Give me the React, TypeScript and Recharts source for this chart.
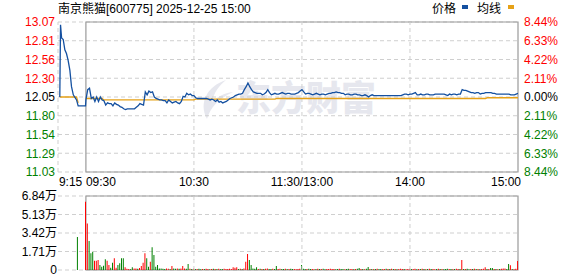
import React from "react";
import {
  ComposedChart,
  Line,
  Bar,
  Cell,
  XAxis,
  YAxis,
  CartesianGrid,
  ReferenceLine,
  ReferenceArea,
} from "recharts";

// ---------- data ----------
const title = "南京熊猫[600775] 2025-12-25 15:00";
const legendNames = ["价格", "均线"];
const watermark = "东方财富";
const prevClose = 12.05;

const priceTicks = [11.033, 11.2873, 11.5415, 11.7958, 12.05, 12.3043, 12.5585, 12.8128, 13.067];
const priceTickLabels = ["11.03", "11.29", "11.54", "11.80", "12.05", "12.30", "12.56", "12.81", "13.07"];
const pctTickLabels = ["8.44%", "6.33%", "4.22%", "2.11%", "0.00%", "2.11%", "4.22%", "6.33%", "8.44%"];

const timeTicks = [-15, 0, 60, 120, 180, 240];
const timeLabels = ["9:15", "09:30", "10:30", "11:30/13:00", "14:00", "15:00"];
const gridMinutes = [60, 120, 180];

const volTicks = [0, 17100, 34200, 51300, 68400];
const volTickLabels = ["0", "1.71万", "3.42万", "5.13万", "6.84万"];

// pre-market (call auction) points, minutes relative to 09:30
const preMinutes = [-14.5, -14.1, -13.5, -12.6, -11.7, -10.8, -9.9, -8.9, -8.0, -7.0, -5.2, -4.3, -0.2];
const prePrice = [12.05, 13.03, 12.85, 12.83, 12.69, 12.64, 12.55, 12.41, 12.19, 12.08, 12.01, 11.93, 11.93];
const preAvg = [12.05, 12.05, 12.05, 12.05, 12.05, 12.05, 12.05, 12.05, 12.05, 12.05, 12.05, 11.97, null];

// continuous session, one value per minute (0 = 09:30 ... 120 = 11:30/13:00 ... 240 = 15:00)
const mainPrice = [
  12.01, 12.15, 12.17, 12.03, 12.05, 11.99, 12.05, 11.99, 12.05, 12.01,
  12.0, 11.94, 11.97, 11.96, 11.96, 11.93, 11.97, 11.95, 11.94, 11.92,
  11.91, 11.89, 11.88, 11.89, 11.89, 11.89, 11.89, 11.89, 11.91, 11.93,
  11.96, 11.95, 11.94, 12.12, 12.08, 12.13, 12.11, 12.12, 12.05, 12.03,
  12.02, 12.01, 12.01, 12.0, 12.0, 11.97, 12.01, 11.99, 11.97, 11.98,
  11.99, 11.97, 11.96, 11.99, 12.06, 12.05, 12.1, 12.08, 12.09, 12.07,
  12.07, 12.04, 12.03, 12.03, 12.03, 12.03, 12.03, 12.03, 12.02, 12.01,
  12.02, 12.01, 11.99, 12.01, 11.98, 11.99, 11.97, 11.98, 11.99, 12.01,
  12.03, 12.04, 12.05, 12.07, 12.08, 12.09, 12.09, 12.1, 12.15, 12.19,
  12.24, 12.19, 12.15, 12.12, 12.11, 12.1, 12.1, 12.1, 12.08, 12.09,
  12.11, 12.15, 12.11, 12.08, 12.09, 12.1, 12.09, 12.09, 12.1, 12.11,
  12.1, 12.09, 12.1, 12.1, 12.09, 12.09, 12.09, 12.1, 12.11, 12.13,
  12.15, 12.12, 12.09, 12.1, 12.1, 12.09, 12.08, 12.09, 12.1, 12.09,
  12.08, 12.09, 12.09, 12.08, 12.09, 12.1, 12.1, 12.11, 12.11, 12.12,
  12.11, 12.11, 12.1, 12.1, 12.08, 12.09, 12.09, 12.08, 12.08, 12.09,
  12.09, 12.08, 12.08, 12.07, 12.07, 12.08, 12.07, 12.05, 12.07, 12.08,
  12.07, 12.07, 12.07, 12.07, 12.07, 12.07, 12.07, 12.07, 12.07, 12.07,
  12.07, 12.07, 12.07, 12.07, 12.07, 12.07, 12.08, 12.09, 12.09, 12.08,
  12.09, 12.09, 12.1, 12.11, 12.08, 12.08, 12.09, 12.08, 12.08, 12.09,
  12.09, 12.08, 12.08, 12.08, 12.09, 12.09, 12.09, 12.09, 12.09, 12.09,
  12.08, 12.07, 12.09, 12.08, 12.09, 12.09, 12.08, 12.09, 12.09, 12.15,
  12.14, 12.14, 12.13, 12.12, 12.11, 12.11, 12.1, 12.11, 12.11, 12.09,
  12.1, 12.1, 12.11, 12.11, 12.11, 12.11, 12.1, 12.1, 12.09, 12.09,
  12.09, 12.09, 12.09, 12.09, 12.09, 12.09, 12.08, 12.08, 12.08, 12.09,
  12.1,
];

// average price line, read as flat stretches: [first minute, last minute, value]
const avgSegments: [number, number, number][] = [
  [0, 9, 12.03],
  [10, 60, 12.01],
  [61, 105, 12.02],
  [106, 222, 12.03],
  [223, 240, 12.04],
];

const preVolMinutes = [-4.5];
const preVolume = [30500];
const preVolDir = ["g"];

const mainVolume = [
  63000, 43000, 26800, 15400, 16900, 8600, 8600, 9200, 4600, 3000,
  4000, 9900, 8600, 4600, 2000, 6800, 10800, 2000, 4600, 6200,
  10800, 10800, 2500, 1200, 1000, 800, 2500, 1500, 1500, 1200,
  1800, 3700, 6700, 15400, 10800, 3000, 7700, 21000, 13900, 3000,
  4600, 1500, 1500, 1200, 1000, 1500, 1200, 1000, 3700, 1500,
  1200, 1500, 1200, 1500, 3700, 1500, 1200, 5500, 1200, 1000,
  1200, 900, 1000, 1200, 800, 1000, 900, 1200, 1000, 800,
  1000, 1200, 900, 1000, 1200, 800, 1000, 1200, 900, 1000,
  1200, 1000, 2500, 2000, 2500, 1000, 1200, 900, 1500, 7700,
  14800, 9200, 4600, 1500, 1200, 2500, 1000, 1200, 900, 1000,
  1200, 1500, 1000, 900, 1200, 1000, 3700, 1000, 1200, 900,
  1000, 1200, 900, 1000, 1200, 900, 1000, 800, 1000, 1200,
  4600, 1200, 900, 1000, 1200, 900, 1000, 800, 1000, 1200,
  900, 1000, 1200, 800, 1000, 900, 1200, 1000, 900, 800,
  1000, 1200, 900, 1000, 800, 1000, 1200, 900, 1000, 800,
  1000, 1200, 1800, 900, 1000, 800, 1200, 2800, 900, 1000,
  800, 1000, 1200, 900, 1000, 800, 1000, 1200, 900, 1000,
  1200, 900, 1000, 800, 1000, 1200, 900, 1000, 800, 1000,
  1200, 900, 1000, 1200, 800, 1000, 900, 1200, 1000, 800,
  1000, 1200, 900, 1000, 800, 1000, 1200, 900, 1000, 800,
  1000, 1200, 900, 1000, 800, 1000, 1200, 900, 1000, 9200,
  900, 1000, 1200, 800, 1000, 900, 1200, 1000, 900, 800,
  1000, 1200, 2500, 900, 1000, 1800, 1800, 900, 1000, 800,
  1000, 1200, 1500, 1500, 900, 5500, 4300, 1000, 800, 1200,
  8300,
];

// r = up minute (red), g = down minute (green)
const mainVolumeDir = [
  "rrgggrrrgg", "ggrrggrrgg", "ggrrrggrrg", "rrrrggrggg", "gggggrrgrg",
  "grgrrrggrg", "rgrggrgrrg", "rgrgrggrrr", "rrrrrgrgrr", "rgggggrgrg",
  "rrggrggrrg", "grgrggrrrr", "gggrggrrgr", "grggrrrrrg", "grggrggrrg",
  "rggrgrggrg", "rgrggrrgrg", "rgrgrrrgrr", "rgrrgrgrgr", "grgrrgrgrg",
  "ggrgrgrrgr", "grggrgrgrg", "rrrgrggrgr", "grrrggrgrr", "r",
].join("");

// ---------- styling ----------
const BLUE = "#1450a0";
const ORANGE = "#e6a117";
const RED = "#ff0000";
const GREEN = "#008000";
const GRID = "#cfcfcf";
const BORDER = "#9a9a9a";
const MARK = "#e6e7ee";
const FONT = "'Liberation Sans', Arial, 'Noto Sans CJK SC', sans-serif";

const avgAt = (m: number): number | null => {
  for (const [a, b, v] of avgSegments) if (m >= a && m <= b) return v;
  return null;
};

const priceData = [
  ...preMinutes.map((t, i) => ({ t, price: prePrice[i], avg: preAvg[i] })),
  ...mainPrice.map((p, i) => ({ t: i, price: p, avg: avgAt(i) })),
];

const volData = [
  ...preVolMinutes.map((t, i) => ({ t, v: preVolume[i], d: preVolDir[i] })),
  ...mainVolume.map((v, i) => ({ t: i, v, d: mainVolumeDir[i] })),
];

const priceMin = priceTicks[0];
const priceMax = priceTicks[priceTicks.length - 1];

const tickColor = (v: number) =>
  Math.abs(v - prevClose) < 1e-6 ? "#000" : v > prevClose ? RED : GREEN;

const LeftPriceTick = (props: any) => {
  const { x, y, payload } = props;
  const idx = priceTicks.indexOf(payload.value);
  return (
    <text x={x} y={y} dy="0.355em" textAnchor="end" fill={tickColor(payload.value)} fontSize={12} fontFamily={FONT}>
      {priceTickLabels[idx]}
    </text>
  );
};

const RightPctTick = (props: any) => {
  const { x, y, payload } = props;
  const idx = priceTicks.indexOf(payload.value);
  return (
    <text x={x} y={y} dy="0.355em" textAnchor="start" fill={tickColor(payload.value)} fontSize={12} fontFamily={FONT}>
      {pctTickLabels[idx]}
    </text>
  );
};

const TimeTick = (props: any) => {
  const { x, y, payload } = props;
  const idx = timeTicks.indexOf(payload.value);
  const anchor = idx <= 1 ? "start" : idx === timeTicks.length - 1 ? "end" : "middle";
  return (
    <text x={anchor === "end" ? x + 3 : x} y={y + 14} textAnchor={anchor} fill="#000" fontSize={12} fontFamily={FONT}>
      {timeLabels[idx]}
    </text>
  );
};

const VolTick = (props: any) => {
  const { x, y, payload } = props;
  const idx = volTicks.indexOf(payload.value);
  return (
    <text x={x} y={y} dy="0.355em" textAnchor="end" fill="#000" fontSize={12} fontFamily={FONT}>
      {volTickLabels[idx]}
    </text>
  );
};

export default function App() {
  const abs: React.CSSProperties = { position: "absolute", left: 0, top: 0 };
  return (
    <div style={{ position: "absolute", left: 0, top: 0, width: 578, height: 276, background: "#fff", overflow: "hidden" }}>
      {/* watermark logo */}
      <svg style={abs} width={578} height={276}>
        <path d="M226 80 C208 86 198 102 207 119 C210 108 218 99 233 92 C224 93 217 97 212 102 C214 92 219 86 226 80 Z" fill={MARK} />
      </svg>
      <div
        style={{
          position: "absolute",
          left: 236,
          top: 76,
          fontSize: 35,
          lineHeight: "40px",
          fontWeight: 900,
          color: MARK,
          fontFamily: "'Noto Sans CJK SC', sans-serif",
        }}
      >
        {watermark}
      </div>
      {/* title */}
      <div style={{ position: "absolute", left: 58, top: 2, fontSize: 12, lineHeight: "14px", fontFamily: FONT, color: "#000", whiteSpace: "nowrap" }}>
        {title}
      </div>
      {/* legend */}
      <div style={{ position: "absolute", left: 432, top: 2, fontSize: 12, lineHeight: "14px", fontFamily: FONT, color: "#000" }}>
        {legendNames[0]}
      </div>
      <div style={{ position: "absolute", left: 462, top: 5, width: 6, height: 4, background: BLUE }} />
      <div style={{ position: "absolute", left: 477, top: 2, fontSize: 12, lineHeight: "14px", fontFamily: FONT, color: "#000" }}>
        {legendNames[1]}
      </div>
      <div style={{ position: "absolute", left: 508, top: 5, width: 6, height: 4, background: ORANGE }} />

      {/* price chart */}
      <div style={abs}>
        <ComposedChart width={578} height={276} data={priceData} margin={{ top: 22, right: 0, bottom: 84, left: 0 }}>
          <CartesianGrid yAxisId="p" vertical={false} stroke={GRID} strokeDasharray="4 3" />
          <XAxis
            dataKey="t"
            type="number"
            domain={[-15.5, 240]}
            ticks={timeTicks}
            interval={0}
            height={20}
            axisLine={false}
            tickLine={false}
            tickSize={0}
            tickMargin={0}
            tick={TimeTick}
            allowDataOverflow
          />
          <YAxis
            yAxisId="p"
            type="number"
            domain={[priceMin, priceMax]}
            ticks={priceTicks}
            interval={0}
            width={58}
            axisLine={false}
            tickLine={false}
            tickSize={0}
            tickMargin={3}
            tick={LeftPriceTick}
            allowDataOverflow
          />
          <YAxis
            yAxisId="pct"
            orientation="right"
            type="number"
            domain={[priceMin, priceMax]}
            ticks={priceTicks}
            interval={0}
            width={60}
            axisLine={false}
            tickLine={false}
            tickSize={0}
            tickMargin={6}
            tick={RightPctTick}
            allowDataOverflow
          />
          <ReferenceLine yAxisId="p" x={-15.5} stroke={GRID} strokeDasharray="4 3" />
          {gridMinutes.map((m) => (
            <ReferenceLine key={m} yAxisId="p" x={m} stroke={GRID} strokeDasharray="4 3" />
          ))}
          <ReferenceArea yAxisId="p" x1={0} x2={240} y1={priceMin} y2={priceMax} stroke={BORDER} strokeWidth={1.2} fill="none" fillOpacity={0} />
          <Line yAxisId="p" dataKey="avg" type="linear" stroke={ORANGE} strokeWidth={1.3} dot={false} isAnimationActive={false} />
          <Line yAxisId="p" dataKey="price" type="linear" stroke={BLUE} strokeWidth={1.3} dot={false} isAnimationActive={false} />
          <Line yAxisId="pct" dataKey="price" type="linear" stroke="none" dot={false} isAnimationActive={false} />
        </ComposedChart>
      </div>

      {/* volume chart */}
      <div style={abs}>
        <ComposedChart width={578} height={276} data={volData} margin={{ top: 196, right: 60, bottom: 6, left: 0 }}>
          <CartesianGrid yAxisId="v" vertical={false} stroke={GRID} strokeDasharray="4 3" />
          <XAxis dataKey="t" type="number" domain={[-15.5, 240]} hide allowDataOverflow />
          <YAxis
            yAxisId="v"
            type="number"
            domain={[0, 68400]}
            ticks={volTicks}
            interval={0}
            width={58}
            axisLine={false}
            tickLine={false}
            tickSize={0}
            tickMargin={1}
            tick={VolTick}
            allowDataOverflow
          />
          {gridMinutes.map((m) => (
            <ReferenceLine key={m} yAxisId="v" x={m} stroke={GRID} strokeDasharray="4 3" />
          ))}
          <ReferenceArea yAxisId="v" x1={0} x2={240} y1={0} y2={68400} stroke={BORDER} strokeWidth={1.2} fill="none" fillOpacity={0} />
          <Bar yAxisId="v" dataKey="v" barSize={1} isAnimationActive={false}>
            {volData.map((d, i) => (
              <Cell key={i} fill={d.d === "r" ? RED : GREEN} />
            ))}
          </Bar>
        </ComposedChart>
      </div>
    </div>
  );
}
